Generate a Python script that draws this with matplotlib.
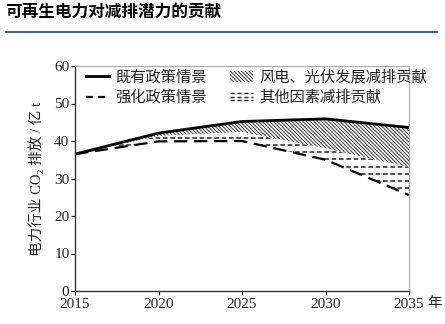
import numpy as np
import matplotlib
matplotlib.use("Agg")
import matplotlib.pyplot as plt
from matplotlib.lines import Line2D
from matplotlib.patches import Patch, Rectangle
from matplotlib.legend_handler import HandlerBase

plt.rcParams['font.family'] = ['Liberation Serif', 'Noto Sans CJK SC', 'DejaVu Sans']
plt.rcParams['hatch.linewidth'] = 0.7

years = [2015, 2020, 2025, 2030, 2035]
existing = [36.5, 42.1, 45.2, 45.9, 43.6]      # 既有政策情景
boundary = [36.5, 41.3, 42.4, 38.0, 33.0]      # 风电、光伏 / 其他因素 分界
enhanced = [36.5, 39.9, 40.0, 35.0, 25.6]      # 强化政策情景
yticks = [0, 10, 20, 30, 40, 50, 60]
xticks = [2015, 2020, 2025, 2030, 2035]
labels = ['既有政策情景', '强化政策情景', '风电、光伏发展减排贡献', '其他因素减排贡献']

HATCH = '\\' * 9

fig = plt.figure(figsize=(4.45, 3.24), dpi=100)
ax = fig.add_axes([75/445, 1-291/324, 334/445, 225/324])

# wind / PV contribution (diagonal hatch)
ax.fill_between(years, boundary, existing, facecolor='white', edgecolor='#333333',
                hatch=HATCH, linewidth=0)
# other factors (horizontal dashed pattern)
poly = ax.fill_between(years, enhanced, boundary, facecolor='white', linewidth=0)
ylines = np.arange(0.9, 60, 1.9)
hl = ax.hlines(ylines, 2015, 2035, colors='#222222', linewidth=1.1,
               linestyles=[(0, (3.0, 1.8))])
hl.set_clip_path(poly.get_paths()[0], ax.transData)

ax.plot(years, existing, color='black', lw=2.0, solid_joinstyle='round')
ax.plot(years, enhanced, color='black', lw=1.6, dashes=(6, 3))

ax.set_xlim(2015, 2035)
ax.set_ylim(0, 60)
ax.set_xticks(xticks)
ax.set_yticks(yticks)
ax.tick_params(axis='both', labelsize=11, length=3, width=0.8, colors='#222222',
               labelcolor='#222222')
ax.tick_params(axis='x', pad=2)
ax.tick_params(axis='y', pad=1)
for s in ['left', 'bottom']:
    ax.spines[s].set_color('#333333')
    ax.spines[s].set_linewidth(1.0)
for s in ['top', 'right']:
    ax.spines[s].set_color('#aaaaaa')
    ax.spines[s].set_linewidth(0.8)

ax.set_ylabel('电力行业 CO₂ 排放 / 亿 t', fontsize=10.5, color='#222222', labelpad=7)
ax.text(427/445, 1-297/324, '年', transform=fig.transFigure, fontsize=10.5,
        va='top', ha='left', color='#222222')


class DashPatternHandler(HandlerBase):
    def create_artists(self, legend, orig, x0, y0, width, height, fontsize, trans):
        arts = []
        for frac in [0.1, 0.45, 0.8]:
            l = Line2D([x0, x0 + width], [y0 + frac * height] * 2, color='#222222',
                       lw=1.0, dashes=(3, 2), transform=trans)
            arts.append(l)
        return arts


h1 = Line2D([], [], color='black', lw=2.0)
h2 = Line2D([], [], color='black', lw=1.6, dashes=(3, 2.5))
h3 = Patch(facecolor='white', edgecolor='#333333', hatch=HATCH, linewidth=0)
h4 = Rectangle((0, 0), 1, 1)
leg = ax.legend([h1, h2, h3, h4], labels, ncol=2, loc='upper left',
                frameon=False, fontsize=11, handlelength=1.5, handletextpad=0.45,
                columnspacing=1.5, labelspacing=0.35, borderaxespad=0.3,
                handler_map={h4: DashPatternHandler()},
                bbox_to_anchor=(0.0, 1.03))
for t in leg.get_texts():
    t.set_color('#222222')

fig.text(5/445, 1-12/324, '可再生电力对减排潜力的贡献', fontsize=12, fontweight='bold',
         family=['Noto Sans CJK SC'], va='center', ha='left')
fig.add_artist(Line2D([6/445, 437/445], [1-32/324, 1-32/324], transform=fig.transFigure,
                      color='#1f3c96', lw=1.2))

fig.savefig('out.png', dpi=100)
